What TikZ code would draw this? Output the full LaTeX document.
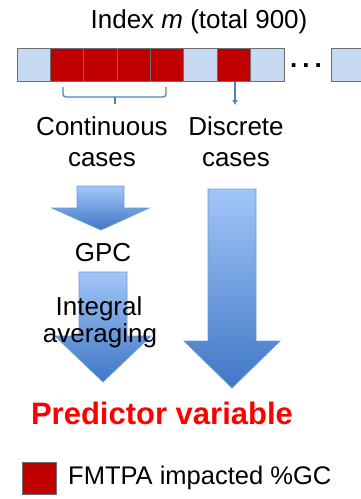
\documentclass[tikz,border=0pt]{standalone}
\usepackage{fontspec}
\setmainfont{Liberation Sans}
\usetikzlibrary{arrows.meta}
\definecolor{cellblue}{HTML}{C6D9F1}
\definecolor{cellred}{HTML}{C00000}
\definecolor{cellline}{HTML}{6F6F6F}
\definecolor{linkblue}{HTML}{4F81BD}
\definecolor{arrtop}{HTML}{A3C6F8}
\definecolor{arrbot}{HTML}{3F77C6}
\definecolor{arredge}{HTML}{6E9BD6}
\definecolor{predred}{HTML}{FF0000}
\tikzset{
  cellb/.style={draw=cellline, line width=1pt, fill=cellblue},
  cellr/.style={draw=cellline, line width=1pt, fill=cellred},
  bigarrow/.style={draw=arredge, line width=0.8pt, top color=arrtop, bottom color=arrbot},
  link/.style={draw=linkblue, line width=1.3pt},
  lbl/.style={inner sep=0pt, anchor=base, font=\fontsize{26}{30}\selectfont},
}
\begin{document}
\begin{tikzpicture}[x=1pt,y=-1pt]
\useasboundingbox (0,0) rectangle (360,499);
% title
\node[lbl] (title) at (199,28) {Index \textit{m} (total 900)};
% cells
\def\cw{33.375}
\foreach \i/\s in {0/cellb,1/cellr,2/cellr,3/cellr,4/cellr,5/cellb,6/cellr,7/cellb}{
  \path[\s] ({17+\i*\cw},48) rectangle ({17+(\i+1)*\cw},81);
}
\path[cellb] (331,48) rectangle (366,81);
\node[inner sep=0pt, anchor=base, font=\fontsize{26}{30}\selectfont\bfseries] (dots) at (306,67) {.\hspace{5pt}.\hspace{5pt}.};
% brace
\coordinate (bl) at (63,87);
\coordinate (br) at (166,87);
\coordinate (bm) at (115,104);
\draw[link, rounded corners=3pt] (bl) -- (63,97) -- (166,97) -- (br);
\draw[link] (115,97) -- (bm);
% discrete small arrow
\coordinate (dstart) at (235,82);
\coordinate (dend) at (235,105);
\draw[link, -{Latex[length=5pt,width=6pt]}] (dstart) -- (dend);
% big arrows
\path[bigarrow] (77,186) -- (124,186) -- (124,208) -- (149,208) -- (101,230) -- (52,208) -- (77,208) -- cycle;
\path[bigarrow] (79,272) -- (127,272) -- (127,336) -- (151,336) -- (103,382) -- (55,336) -- (79,336) -- cycle;
\path[bigarrow] (208,189) -- (256,189) -- (256,341) -- (280,341) -- (232,388) -- (184,341) -- (208,341) -- cycle;
% labels
\node[lbl] (cont1) at (102,135) {Continuous};
\node[lbl] (cont2) at (102,166) {cases};
\node[lbl] (disc1) at (236,135) {Discrete};
\node[lbl] (disc2) at (236,166) {cases};
\node[lbl] (gpc) at (103,261) {GPC};
\node[lbl] (integ) at (99,315) {Integral};
\node[lbl] (aver) at (100,342) {averaging};
\node[inner sep=0pt, anchor=base, text=predred, font=\fontsize{31}{36}\selectfont\bfseries] (pred) at (162,424) {Predictor variable};
% legend
\path[cellr] (22,462) rectangle (56,494);
\node[inner sep=0pt, anchor=base west, font=\fontsize{25.5}{30}\selectfont] (legend) at (68,484) {FMTPA impacted \%GC};
\end{tikzpicture}
\end{document}
